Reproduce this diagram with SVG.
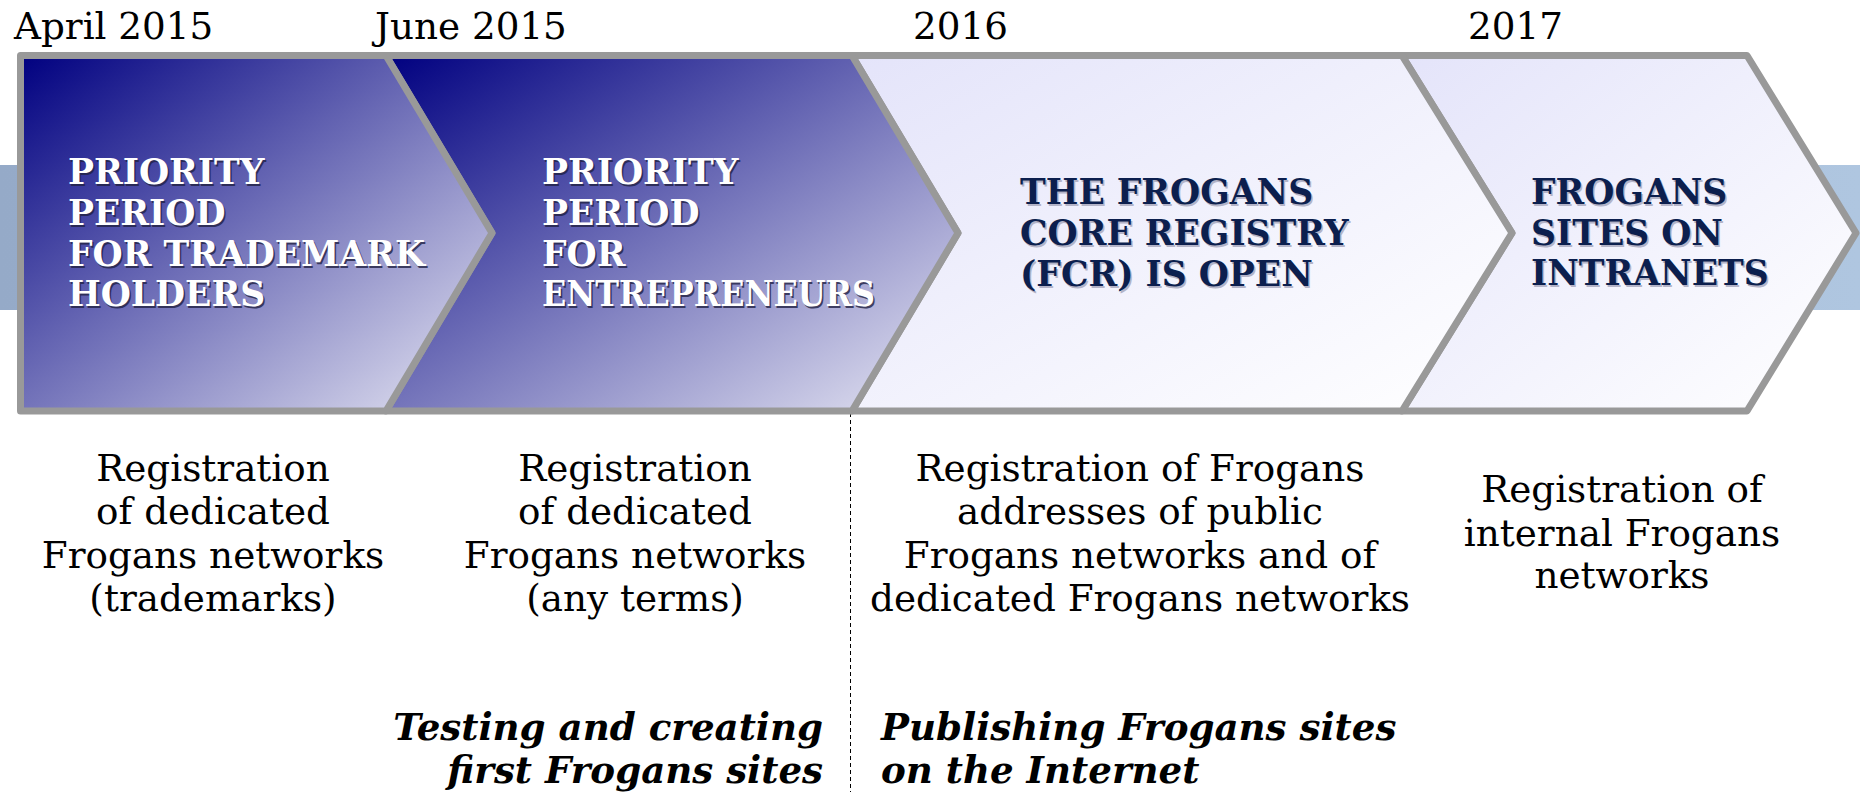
<svg xmlns="http://www.w3.org/2000/svg" width="1860" height="792" viewBox="0 0 1860 792">
<defs>
<linearGradient id="gDark" x1="0" y1="0" x2="1" y2="1">
<stop offset="0" stop-color="#000080"/>
<stop offset="1" stop-color="#e8e8f4"/>
</linearGradient>
<linearGradient id="gLight" x1="0" y1="0" x2="1" y2="1">
<stop offset="0" stop-color="#e4e4fa"/>
<stop offset="1" stop-color="#ffffff"/>
</linearGradient>
<linearGradient id="gBand" x1="0" y1="0" x2="1" y2="0">
<stop offset="0" stop-color="#95aac8"/>
<stop offset="1" stop-color="#afc6e0"/>
</linearGradient>
<style>
.shape{stroke:#999999;stroke-width:7;stroke-linejoin:round}
.date{font-family:"DejaVu Serif","Liberation Serif",serif;font-size:37.3px;fill:#000}
.desc{font-family:"DejaVu Serif","Liberation Serif",serif;font-size:37.3px;fill:#000;text-anchor:middle}
.wt{font-family:"DejaVu Serif","Liberation Serif",serif;font-size:34.6px;font-weight:bold;fill:#ffffff}
.wsh{font-family:"DejaVu Serif","Liberation Serif",serif;font-size:34.6px;font-weight:bold;fill:#222244;opacity:0.8}
.dt{font-family:"DejaVu Serif","Liberation Serif",serif;font-size:34.6px;font-weight:bold;fill:#0c1f4e}
.dsh{font-family:"DejaVu Serif","Liberation Serif",serif;font-size:34.6px;font-weight:bold;fill:#b4b4c8}
.it{font-family:"DejaVu Serif","Liberation Serif",serif;font-size:37.2px;font-weight:bold;font-style:italic;fill:#000}
</style>
</defs>
<rect width="1860" height="792" fill="#ffffff"/>
<rect id="band" x="0" y="165" width="1860" height="145" fill="url(#gBand)"/>
<g id="connectors">
<line x1="850.5" y1="413" x2="850.5" y2="792" stroke="#000" stroke-width="1" stroke-dasharray="4,3"/>
</g>
<g id="phase4">
<path class="shape" fill="url(#gLight)" d="M1402,55.5 H1747 L1856,233 L1747,411 H1402 L1512,233 Z"/>
<g transform="translate(1.5,1.5)"><text class="dsh" x="1531" y="204">FROGANS</text><text class="dsh" x="1531" y="245">SITES ON</text><text class="dsh" x="1531" y="285">INTRANETS</text></g>
<text class="dt" x="1531" y="204">FROGANS</text><text class="dt" x="1531" y="245">SITES ON</text><text class="dt" x="1531" y="285">INTRANETS</text>
</g>
<g id="phase3">
<path class="shape" fill="url(#gLight)" d="M852,55.5 H1402 L1512,233 L1402,411 H852 L958,233 Z"/>
<g transform="translate(1.5,1.5)"><text class="dsh" x="1020" y="204">THE FROGANS</text><text class="dsh" x="1020" y="245">CORE REGISTRY</text><text class="dsh" x="1020" y="286">(FCR) IS OPEN</text></g>
<text class="dt" x="1020" y="204">THE FROGANS</text><text class="dt" x="1020" y="245">CORE REGISTRY</text><text class="dt" x="1020" y="286">(FCR) IS OPEN</text>
</g>
<g id="phase2">
<path class="shape" fill="url(#gDark)" d="M386,55.5 H852 L958,233 L852,411 H386 L492,233 Z"/>
<g transform="translate(1.5,1.5)"><text class="wsh" x="542" y="184">PRIORITY</text><text class="wsh" x="542" y="225">PERIOD</text><text class="wsh" x="542" y="266">FOR</text><text class="wsh" x="542" y="306" textLength="333" lengthAdjust="spacingAndGlyphs">ENTREPRENEURS</text></g>
<text class="wt" x="542" y="184">PRIORITY</text><text class="wt" x="542" y="225">PERIOD</text><text class="wt" x="542" y="266">FOR</text><text class="wt" x="542" y="306" textLength="333" lengthAdjust="spacingAndGlyphs">ENTREPRENEURS</text>
</g>
<g id="phase1">
<path class="shape" fill="url(#gDark)" d="M20.5,55.5 H386 L492,233 L386,411 H20.5 Z"/>
<g transform="translate(1.5,1.5)"><text class="wsh" x="68" y="184">PRIORITY</text><text class="wsh" x="68" y="225">PERIOD</text><text class="wsh" x="68" y="266">FOR TRADEMARK</text><text class="wsh" x="68" y="306">HOLDERS</text></g>
<text class="wt" x="68" y="184">PRIORITY</text><text class="wt" x="68" y="225">PERIOD</text><text class="wt" x="68" y="266">FOR TRADEMARK</text><text class="wt" x="68" y="306">HOLDERS</text>
</g>
<g id="dates">
<text class="date" x="14" y="39">April 2015</text>
<text class="date" x="375" y="39">June 2015</text>
<text class="date" x="913" y="39">2016</text>
<text class="date" x="1468" y="39">2017</text>
</g>
<g id="desc1">
<text class="desc" x="213" y="481">Registration</text>
<text class="desc" x="213" y="524">of dedicated</text>
<text class="desc" x="213" y="568">Frogans networks</text>
<text class="desc" x="213" y="611">(trademarks)</text>
</g>
<g id="desc2">
<text class="desc" x="635" y="481">Registration</text>
<text class="desc" x="635" y="524">of dedicated</text>
<text class="desc" x="635" y="568">Frogans networks</text>
<text class="desc" x="635" y="611">(any terms)</text>
</g>
<g id="desc3">
<text class="desc" x="1140" y="481">Registration of Frogans</text>
<text class="desc" x="1140" y="524">addresses of public</text>
<text class="desc" x="1140" y="568">Frogans networks and of</text>
<text class="desc" x="1140" y="611">dedicated Frogans networks</text>
</g>
<g id="desc4">
<text class="desc" x="1622" y="502">Registration of</text>
<text class="desc" x="1622" y="546">internal Frogans</text>
<text class="desc" x="1622" y="588">networks</text>
</g>
<g id="stage-testing">
<text class="it" x="823" y="740" text-anchor="end">Testing and creating</text>
<text class="it" x="823" y="783" text-anchor="end">first Frogans sites</text>
</g>
<g id="stage-publishing">
<text class="it" x="881" y="740">Publishing Frogans sites</text>
<text class="it" x="881" y="783">on the Internet</text>
</g>
</svg>
